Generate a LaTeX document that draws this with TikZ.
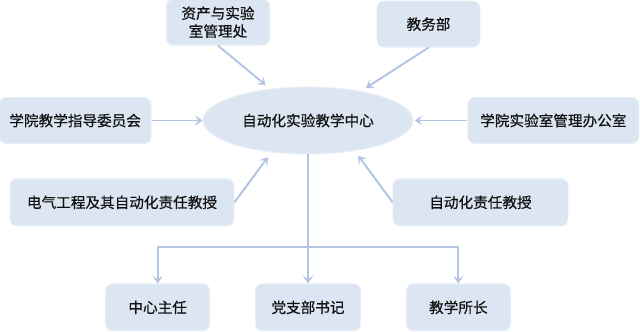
\documentclass[tikz,border=0pt]{standalone}
\usepackage{fontspec}
\newfontfamily\cjk[FakeBold=0.5]{Noto Sans CJK SC}
\usetikzlibrary{positioning, arrows.meta, shapes.geometric}
\definecolor{boxfill}{HTML}{DCE6F2}
\definecolor{boxline}{HTML}{E8EEF7}
\definecolor{arrline}{HTML}{B4C5E4}
\definecolor{txt}{HTML}{111111}
\begin{document}
\begin{tikzpicture}[
    node distance=1cm and 1.2cm,
    box/.style={draw=boxline, line width=0.6pt, fill=boxfill, rounded corners=5pt,
                minimum height=1.15cm, inner sep=0pt, align=center, text=txt,
                font=\cjk\fontsize{10.4}{12.8}\selectfont},
    hub/.style={ellipse, draw=boxline, line width=0.6pt, fill=boxfill,
                minimum width=5.25cm, minimum height=1.675cm, inner sep=0pt, text=txt,
                font=\cjk\fontsize{10.4}{12.8}\selectfont},
    arr/.style={-{Stealth[length=5.5pt, width=7.5pt, inset=2.5pt]}, draw=arrline, line width=1.4pt},
    gap/.style={shorten >=0.15cm}
]
\useasboundingbox (0,0) rectangle (16,8.275);
\node[hub] (hub) at (7.7,5.2625) {自动化实验教学中心};
\node[box, minimum width=2.575cm, above=1.025cm of hub, xshift=-2.25cm] (asset) {资产与实验\\室管理处};
\node[box, minimum width=2.575cm, above=0.975cm of hub, xshift=3.0125cm] (affairs) {教务部};
\node[box, minimum width=3.8cm, left=1.275cm of hub] (council) {学院教学指导委员会};
\node[box, minimum width=4.275cm, right=1.35cm of hub] (office) {学院实验室管理办公室};
\node[box, minimum width=5.6cm, minimum height=1.175cm, below=0.6cm of hub, xshift=-4.65cm] (elecprof) {电气工程及其自动化责任教授};
\node[box, minimum width=4.375cm, minimum height=1.175cm, below=0.6cm of hub, xshift=4.3125cm] (autoprof) {自动化责任教授};
\node[box, minimum width=2.625cm, minimum height=1.175cm, below=3.225cm of hub] (party) {党支部书记};
\node[box, minimum width=2.6cm, minimum height=1.175cm, left=1.125cm of party] (director) {中心主任};
\node[box, minimum width=2.6cm, minimum height=1.175cm, right=1.125cm of party] (dean) {教学所长};
\coordinate[below=2.325cm of hub.south] (fork);

\draw[arr, gap] (asset.south) -- (hub.140);
\draw[arr, gap] (affairs.south) -- (hub.29);
\draw[arr] (council) -- (hub);
\draw[arr, shorten >=1pt] (office) -- (hub);
\draw[arr, gap] (elecprof.east) -- (hub.221);
\draw[arr, gap] (autoprof.west) -- (hub.327);
\draw[arr] (hub.south) -- (party.north);
\draw[arr] (fork) -| (director.north);
\draw[arr] (fork) -| (dean.north);
\end{tikzpicture}
\end{document}
